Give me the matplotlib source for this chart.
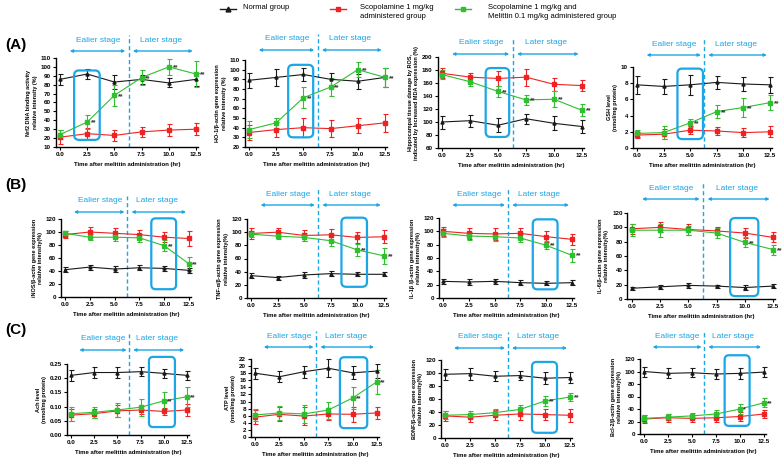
import matplotlib.pyplot as plt
import numpy as np
from matplotlib.lines import Line2D
from matplotlib.patches import FancyBboxPatch
from matplotlib.ticker import FormatStrFormatter, MultipleLocator

plt.rcParams['font.family'] = ['Liberation Sans', 'DejaVu Sans']

W, H = 784, 462
BLUE = '#1ba6e6'
C_NOR, C_SCO, C_MEL = '#1a1a1a', '#ee2222', '#2fbf2f'

# sampling times (hr)
time = [0, 2.5, 5, 7.5, 10, 12.5]

# (A) Nrf2
nrf2_nor = [86, 92, 83, 86, 82, 86]
nrf2_nor_err = [6, 6, 8, 5, 5, 7]
nrf2_sco = [21, 25, 23, 27, 29, 30]
nrf2_sco_err = [8, 6, 6, 6, 7, 7]
nrf2_mel = [24, 38, 68, 88, 100, 92]
nrf2_mel_err = [5, 8, 12, 8, 9, 15]

# (A) HO-1
ho1_nor = [89, 92, 95, 90, 88, 92]
ho1_nor_err = [8, 9, 7, 7, 8, 10]
ho1_sco = [35, 38, 40, 39, 42, 45]
ho1_sco_err = [8, 8, 10, 9, 8, 9]
ho1_mel = [38, 45, 71, 82, 100, 92]
ho1_mel_err = [9, 5, 11, 9, 8, 10]

# (A) MDA
mda_nor = [100, 102, 95, 105, 98, 93]
mda_nor_err = [10, 9, 11, 8, 11, 10]
mda_sco = [175, 169, 167, 169, 158, 156]
mda_sco_err = [8, 7, 12, 13, 10, 9]
mda_mel = [173, 162, 147, 134, 135, 118]
mda_mel_err = [7, 7, 9, 8, 12, 9]

# (A) GSH
gsh_nor = [7.8, 7.6, 7.8, 8.1, 7.9, 7.8]
gsh_nor_err = [1.1, 0.9, 1.2, 0.8, 0.9, 1.0]
gsh_sco = [1.6, 1.7, 2.2, 2.1, 1.9, 2.0]
gsh_sco_err = [0.4, 0.6, 0.5, 0.5, 0.6, 0.7]
gsh_mel = [1.8, 1.9, 3.1, 4.5, 5.0, 5.6]
gsh_mel_err = [0.4, 0.8, 0.5, 0.8, 1.2, 0.9]

# (B) iNOS
inos_nor = [42, 46, 43, 45, 44, 41]
inos_nor_err = [4, 4, 4, 4, 4, 4]
inos_sco = [96, 100, 98, 96, 92, 90]
inos_sco_err = [6, 8, 8, 7, 8, 11]
inos_mel = [98, 92, 92, 91, 79, 51]
inos_mel_err = [4, 5, 6, 6, 8, 10]

# (B) TNF-a
tnf_nor = [34, 31, 35, 37, 36, 36]
tnf_nor_err = [4, 3, 4, 4, 3, 3]
tnf_sco = [98, 100, 95, 96, 92, 93]
tnf_sco_err = [8, 7, 8, 9, 8, 10]
tnf_mel = [97, 94, 92, 87, 73, 64]
tnf_mel_err = [5, 5, 6, 8, 9, 12]

# (B) IL-1b
il1_nor = [25, 24, 25, 23, 22, 23]
il1_nor_err = [4, 4, 4, 4, 3, 4]
il1_sco = [100, 97, 96, 97, 92, 88]
il1_sco_err = [7, 8, 9, 8, 8, 8]
il1_mel = [97, 93, 92, 90, 79, 64]
il1_mel_err = [6, 6, 6, 6, 6, 10]

# (B) IL-6
il6_nor = [15, 17, 19, 18, 16, 18]
il6_nor_err = [2, 3, 3, 2, 3, 3]
il6_sco = [98, 100, 97, 95, 92, 86]
il6_sco_err = [7, 7, 7, 6, 7, 7]
il6_mel = [96, 96, 96, 92, 79, 69]
il6_mel_err = [8, 9, 6, 7, 7, 7]

# (C) Ach
ach_nor = [0.21, 0.22, 0.22, 0.223, 0.217, 0.21]
ach_nor_err = [0.02, 0.02, 0.02, 0.015, 0.015, 0.015]
ach_sco = [0.07, 0.075, 0.085, 0.088, 0.083, 0.088]
ach_sco_err = [0.02, 0.015, 0.02, 0.015, 0.012, 0.02]
ach_mel = [0.075, 0.08, 0.088, 0.098, 0.12, 0.135]
ach_mel_err = [0.025, 0.02, 0.025, 0.03, 0.03, 0.035]

# (C) ATP
atp_nor = [18, 17, 18.4, 19.4, 18.1, 18.6]
atp_nor_err = [1.5, 1.5, 1.7, 2.5, 1.8, 2.0]
atp_sco = [5.6, 6.4, 5.9, 6.5, 6.4, 6.8]
atp_sco_err = [2, 2, 2.6, 1.8, 2.1, 1.8]
atp_mel = [6.2, 6.8, 6.5, 7.6, 11, 15.6]
atp_mel_err = [1.8, 2, 2.5, 2.4, 3.2, 3.4]

# (C) BDNF
bdnf_nor = [98, 99, 95, 96, 92, 93]
bdnf_nor_err = [8, 9, 8, 7, 9, 8]
bdnf_sco = [34, 32, 35, 37, 36, 35]
bdnf_sco_err = [8, 7, 8, 9, 8, 10]
bdnf_mel = [35, 36, 39, 44, 57, 63]
bdnf_mel_err = [6, 5, 5, 7, 8, 6]

# (C) Bcl-2
bcl_nor = [100, 97, 98, 96, 97, 99]
bcl_nor_err = [8, 8, 7, 8, 9, 8]
bcl_sco = [24, 26, 25, 26, 28, 32]
bcl_sco_err = [6, 6, 6, 6, 7, 7]
bcl_mel = [25, 27, 29, 32, 40, 50]
bcl_mel_err = [5, 5, 5, 7, 8, 7]

# panel settings: pixel frame (x of 0.0, x of 12.5, y top, y bottom), arrow y px,
# ylabel, y range, y step, highlight box (x0, x1, y0, y1), significance marks
panels = [
    dict(px=(60, 196, 58, 147), ay=51, ylab='Nrf2 DNA binding activity\nrelative intensity (%)',
         yr=(10, 110), ys=10, box=(1.3, 3.65, 18, 96),
         data=(nrf2_nor, nrf2_nor_err, nrf2_sco, nrf2_sco_err, nrf2_mel, nrf2_mel_err),
         stars=['', '**', '**', '**', '**', '**']),
    dict(px=(249, 385, 60, 147), ay=50, ylab='HO-1/β-actin gene expression\nrelative intensity (%)',
         yr=(20, 110), ys=10, box=(3.6, 5.9, 30, 105),
         data=(ho1_nor, ho1_nor_err, ho1_sco, ho1_sco_err, ho1_mel, ho1_mel_err),
         stars=['', '', '**', '**', '**', '**']),
    dict(px=(442, 582, 57, 148), ay=54,
         ylab='Hippocampal tissue damage by ROS,\nindicated by Increased MDA expression (%)',
         yr=(60, 200), ys=20, box=(3.9, 6.0, 77, 183),
         data=(mda_nor, mda_nor_err, mda_sco, mda_sco_err, mda_mel, mda_mel_err),
         stars=['', '', '**', '**', '**', '**']),
    dict(px=(637, 770, 67, 148), ay=55, ylab='GSH level\n(nmol/mg protein)',
         yr=(0, 10), ys=2, box=(3.8, 6.2, 1.1, 9.8),
         data=(gsh_nor, gsh_nor_err, gsh_sco, gsh_sco_err, gsh_mel, gsh_mel_err),
         stars=['', '', '**', '**', '**', '**']),
    dict(px=(65, 189, 219, 297), ay=212, ylab='iNOS/β-actin gene expression\nrelative intensity(%)',
         yr=(0, 120), ys=20, box=(8.7, 11.2, 12, 121),
         data=(inos_nor, inos_nor_err, inos_sco, inos_sco_err, inos_mel, inos_mel_err),
         stars=['', '', '', '', '**', '**']),
    dict(px=(251, 384, 219, 298), ay=205, ylab='TNF-α/β-actin gene expression\nrelative intensity(%)',
         yr=(0, 120), ys=20, box=(8.5, 10.9, 17, 122),
         data=(tnf_nor, tnf_nor_err, tnf_sco, tnf_sco_err, tnf_mel, tnf_mel_err),
         stars=['', '', '', '', '**', '**']),
    dict(px=(443, 572, 218, 298), ay=205, ylab='IL-1β /β-actin gene expression\nrelative intensity(%)',
         yr=(0, 120), ys=20, box=(8.7, 11.1, 13, 118),
         data=(il1_nor, il1_nor_err, il1_sco, il1_sco_err, il1_mel, il1_mel_err),
         stars=['', '', '', '', '**', '**']),
    dict(px=(632, 773, 213, 299), ay=199, ylab='IL-6/β-actin gene expression\nrelative intensity(%)',
         yr=(0, 120), ys=20, box=(8.7, 11.2, 4, 113),
         data=(il6_nor, il6_nor_err, il6_sco, il6_sco_err, il6_mel, il6_mel_err),
         stars=['', '', '', '', '**', '**']),
    dict(px=(71, 187, 364, 435), ay=350, ylab='Ach level\n(nmol/mg protein)',
         yr=(0, 0.25), ys=0.05, box=(8.4, 11.2, 0.028, 0.275),
         data=(ach_nor, ach_nor_err, ach_sco, ach_sco_err, ach_mel, ach_mel_err),
         stars=['', '', '', '', '**', '**']),
    dict(px=(255, 377, 359, 437), ay=347, ylab='ATP level\n(nmol/mg protein)',
         yr=(0, 22), ys=2, box=(8.7, 11.5, 2.5, 22.5),
         data=(atp_nor, atp_nor_err, atp_sco, atp_sco_err, atp_mel, atp_mel_err),
         stars=['', '', '', '', '**', '**']),
    dict(px=(445, 570, 360, 438), ay=348, ylab='BDNF/β-actin gene expression\nrelative intensity(%)',
         yr=(0, 120), ys=20, box=(8.7, 11.2, 8, 117),
         data=(bdnf_nor, bdnf_nor_err, bdnf_sco, bdnf_sco_err, bdnf_mel, bdnf_mel_err),
         stars=['', '', '', '', '**', '**']),
    dict(px=(644, 764, 359, 434), ay=347, ylab='Bcl-2/β-actin gene expression\nrelative intensity(%)',
         yr=(0, 120), ys=20, box=(8.4, 11.0, 13, 126),
         data=(bcl_nor, bcl_nor_err, bcl_sco, bcl_sco_err, bcl_mel, bcl_mel_err),
         stars=['', '', '', '', '*', '**']),
]

XLO, XHI = -0.4, 12.7

fig = plt.figure(figsize=(7.84, 4.62), dpi=100)

for p in panels:
    x0, x1, yt, yb = p['px']
    ppu = (x1 - x0) / 12.5
    left = x0 + XLO * ppu
    right = x0 + XHI * ppu
    ax = fig.add_axes([left / W, 1 - yb / H, (right - left) / W, (yb - yt) / H])
    ax.set_xlim(XLO, XHI)
    ax.set_ylim(*p['yr'])

    nor, nor_e, sco, sco_e, mel, mel_e = p['data']
    for v, e, c, m in [(nor, nor_e, C_NOR, '^'), (sco, sco_e, C_SCO, 's'), (mel, mel_e, C_MEL, 's')]:
        ax.errorbar(time, v, yerr=e, color=c, marker=m, ms=2.2, lw=0.8,
                    elinewidth=0.8, capsize=1.8, capthick=0.8, clip_on=False)

    span = p['yr'][1] - p['yr'][0]
    for t, v, s in zip(time, mel, p['stars']):
        if s:
            ax.text(t + 0.35, v - span * 0.01, s, fontsize=5, fontweight='bold',
                    color='#333333', ha='left', va='center')

    # highlight box
    bx0, bx1, by0, by1 = p['box']
    ppu_y = (yb - yt) / span
    patch = FancyBboxPatch((bx0, by0), bx1 - bx0, by1 - by0,
                           boxstyle='round,pad=0,rounding_size=0.45',
                           mutation_aspect=ppu / ppu_y, fill=False,
                           ec=BLUE, lw=1.6, clip_on=False, zorder=5)
    ax.add_patch(patch)

    # stage annotations
    h = yb - yt
    fa = (yb - p['ay']) / h
    ft = (yb - p['ay'] + 11) / h
    fd = (yb - p['ay'] + 16) / h
    tr = ax.get_xaxis_transform()
    ax.plot([6.3, 6.3], [0, fd], transform=tr, color=BLUE, lw=1.0,
            ls=(0, (3, 2)), clip_on=False)
    for a, b in [(0.9, 6.0), (6.7, 12.2)]:
        ax.annotate('', xy=(b, fa), xytext=(a, fa), xycoords=tr, textcoords=tr,
                    arrowprops=dict(arrowstyle='<|-|>', color=BLUE, lw=1.0,
                                    mutation_scale=4, shrinkA=0, shrinkB=0),
                    annotation_clip=False)
    ax.text(3.5, ft, 'Ealier stage', transform=tr, ha='center', va='center',
            color=BLUE, fontsize=6)
    ax.text(9.3, ft, 'Later stage', transform=tr, ha='center', va='center',
            color=BLUE, fontsize=6)

    ax.spines['top'].set_visible(False)
    ax.spines['right'].set_visible(False)
    for s in ['left', 'bottom']:
        ax.spines[s].set_linewidth(1.0)
    ax.set_xticks(time)
    ax.xaxis.set_major_formatter(FormatStrFormatter('%.1f'))
    ax.yaxis.set_major_locator(MultipleLocator(p['ys']))
    if p['ys'] < 1:
        ax.yaxis.set_major_formatter(FormatStrFormatter('%.2f'))
    ax.tick_params(labelsize=4.5, length=2, width=0.8, pad=1.5)
    for lab in ax.get_xticklabels() + ax.get_yticklabels():
        lab.set_fontweight('bold')
    ax.set_xlabel('Time after melittin administration (hr)', fontsize=4.3,
                  fontweight='bold', labelpad=4)
    ax.set_ylabel(p['ylab'], fontsize=4.0, fontweight='bold', labelpad=2,
                  linespacing=1.3)

# panel letters
for lab, y in [('(A)', 45), ('(B)', 185), ('(C)', 330)]:
    fig.text(5 / W, 1 - y / H, lab, fontsize=11, fontweight='bold', va='center')

# legend at top
legend_items = [
    (228, 243, 'Normal group', C_NOR, '^'),
    (338, 360, 'Scopolamine 1 mg/kg\nadministered group', C_SCO, 's'),
    (463, 488, 'Scopolamine 1 mg/kg and\nMelittin 0.1 mg/kg administered group', C_MEL, 's'),
]
for mx, tx, lab, c, m in legend_items:
    fig.add_artist(Line2D([(mx - 8) / W, (mx + 8) / W], [1 - 9 / H, 1 - 9 / H],
                          color=c, lw=1.0, transform=fig.transFigure))
    fig.add_artist(Line2D([mx / W], [1 - 9 / H], color=c, marker=m, ms=3.5, lw=0,
                          transform=fig.transFigure))
    fig.text(tx / W, 1 - 4 / H, lab, fontsize=5.5, va='top', ha='left', linespacing=1.5)

fig.savefig('out.png', dpi=100)
